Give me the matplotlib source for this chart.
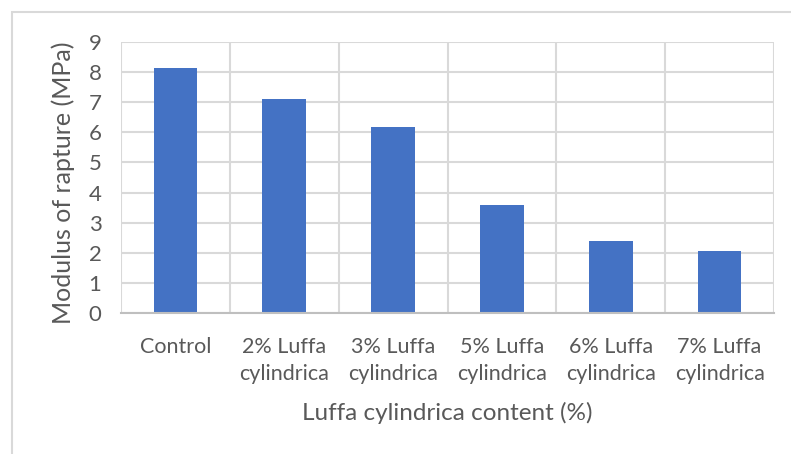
import matplotlib
matplotlib.use("Agg")
import matplotlib.pyplot as plt
from matplotlib.patches import Rectangle
from matplotlib.ticker import FixedLocator

categories = ["Control", "2% Luffa\ncylindrica", "3% Luffa\ncylindrica",
              "5% Luffa\ncylindrica", "6% Luffa\ncylindrica", "7% Luffa\ncylindrica"]
values = [8.15, 7.12, 6.19, 3.60, 2.40, 2.06]
yticks = [0, 1, 2, 3, 4, 5, 6, 7, 8, 9]

W, H = 791, 454
plt.rcParams['font.family'] = ['Lato', 'DejaVu Sans']
fig = plt.figure(figsize=(W / 100, H / 100), dpi=100)

# outer chart border (only top and left visible)
fig.add_artist(Rectangle((12 / W, -0.1), 1.2, (H - 12) / H + 0.1, transform=fig.transFigure,
                         fill=False, edgecolor="#D9D9D9", linewidth=1.5))

left, right, top, bottom = 121, 774, 42, 313
ax = fig.add_axes([left / W, (H - bottom) / H, (right - left) / W, (bottom - top) / H])

x = list(range(len(categories)))
ax.bar(x, values, width=0.40, color="#4472C4", zorder=3)

ax.set_xlim(-0.5, len(categories) - 0.5)
ax.set_ylim(0, 9)
ax.set_yticks(yticks)
ax.set_xticks(x)
ax.set_xticklabels(categories, fontsize=15.5, color="#595959", linespacing=1.45)
ax.tick_params(axis='y', labelsize=16, colors="#595959", length=0, pad=14)
ax.tick_params(axis='x', length=0, pad=17)
ax.xaxis.set_minor_locator(FixedLocator([i - 0.5 for i in range(len(categories) + 1)]))
ax.tick_params(axis='x', which='minor', length=0)

ax.grid(axis='y', which='major', color="#D9D9D9", linewidth=1.5, zorder=0)
ax.grid(axis='x', which='minor', color="#D9D9D9", linewidth=1.5, zorder=0)
ax.grid(axis='x', which='major', visible=False)

for s in ['top', 'right', 'left']:
    ax.spines[s].set_visible(False)
ax.spines['bottom'].set_color("#BFBFBF")
ax.spines['bottom'].set_linewidth(1.5)
ax.spines['bottom'].set_zorder(4)

fig.text(447 / W, 1 - 413 / H, "Luffa cylindrica content (%)", ha='center', va='center',
         fontsize=17.5, color="#595959")
fig.text(63 / W, 1 - 183 / H, "Modulus of rapture (MPa)", ha='center', va='center',
         rotation=90, fontsize=18, color="#595959")

fig.savefig("out.png", dpi=100)
